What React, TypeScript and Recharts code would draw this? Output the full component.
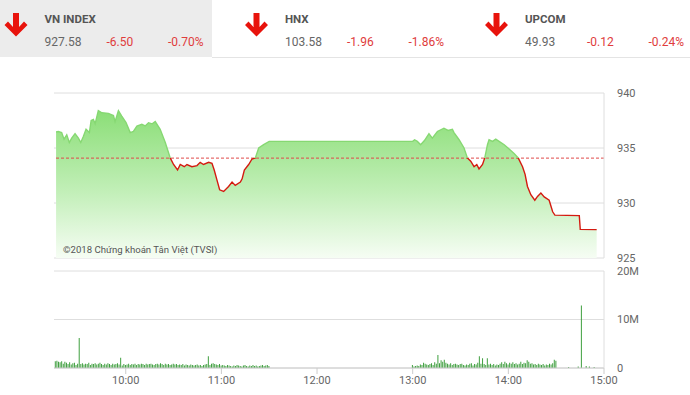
import React from "react";
import {
  ComposedChart,
  Area,
  Line,
  Bar,
  XAxis,
  YAxis,
  CartesianGrid,
  ReferenceLine,
} from "recharts";

// ---- time axis (minutes after 09:00) ----
const timeTicks = [60, 120, 180, 240, 300, 360];
const timeLabels = ["10:00", "11:00", "12:00", "13:00", "14:00", "15:00"];

// ---- header indices ----
const indexNames = ["VN INDEX", "HNX", "UPCOM"];
const indexValues = ["927.58", "103.58", "49.93"];
const indexChanges = ["-6.50", "-1.96", "-0.12"];
const indexPercents = ["-0.70%", "-1.86%", "-0.24%"];

// ---- VN-Index intraday ----
const REFERENCE = 934.08;
const priceTimes = [
  16.3, 17.7, 19.8, 21.3, 23, 24.6, 26.1, 28.2, 30.3, 31.8, 33.4, 35.1, 37.2, 38.3, 39.7, 40.8,
  42.8, 45, 49.1, 52.3, 53.3, 55.4, 57.5, 60.2, 62.8, 64.8, 67, 70.1, 72.2, 74.3, 76.6, 78.5,
  81.6, 84.8, 87.9, 90, 92.5, 94.2, 96.7, 98.4, 101.5, 104.7, 106.7, 108.8, 112, 114.1, 115.5,
  117.2, 118.9, 121.4, 124.5, 126.7, 128.7, 131.9, 133, 134.4, 137.1, 139.2, 141.3, 143.4,
  146.5, 150,
  240, 241.2, 242.9, 245, 247.5, 250.2, 252.3, 255.5, 259.6, 262.2, 264.9, 265.9, 269.1, 272.2,
  274.3, 276.4, 278.5, 280.2, 281.6, 283.8, 285.2, 286.9, 287.9, 290.1, 292.1, 294.2, 297.4,
  300.5, 303.6, 306.2, 308.9, 310.5, 312, 314.1, 316.6, 318.3, 320.4, 322.5, 325.6, 327.8,
  329.2, 344.5, 345.1, 355.4,
];
const priceValues = [
  936.45, 936.5, 936.4, 935.8, 936.2, 935.5, 935.9, 936.3, 935.9, 935.5, 936.05, 936.7, 936.4,
  937.5, 937.6, 937.2, 938.4, 938.2, 938.15, 937.95, 937.4, 938.4, 937.9, 937.3, 936.4, 936.5,
  937.0, 937.15, 937.0, 937.3, 937.2, 937.4, 936.7, 935.5, 934.1, 933.5, 933.0, 933.5, 933.3,
  933.5, 933.3, 933.4, 933.7, 933.5, 933.7, 933.6, 933.0, 932.1, 931.2, 931.05, 931.5, 931.9,
  931.6, 931.9, 932.2, 933.0, 933.5, 934.0, 934.1, 935.0, 935.3, 935.6,
  935.6, 935.75, 935.6, 935.3, 935.7, 936.3, 935.9, 936.5, 936.8, 936.6, 936.7, 936.4, 935.75,
  935.0, 934.1, 933.8, 933.3, 933.5, 933.1, 933.5, 934.1, 935.3, 935.75, 935.6, 935.8, 935.6,
  935.3, 934.9, 934.5, 934.1, 933.3, 932.6, 931.5, 930.75, 930.25, 930.6, 930.9, 930.55,
  930.25, 929.2, 928.9, 928.85, 927.6, 927.58,
];

// ---- volume (millions), one bar per minute ----
const morningStart = 16;
const morningVolumes = [
  1.4, 1.5, 1.3, 1.2, 1.4, 0.9, 1.3, 1.1, 0.8, 1.2,
  0.7, 1.0, 1.1, 0.6, 0.9,
  6.2,
  0.8, 1.0, 0.7, 0.9, 0.8, 1.1, 0.6, 0.9, 0.8,
  1.0, 0.7, 0.9, 1.1, 0.8, 0.6, 0.9, 0.7, 1.0, 0.8,
  0.6, 0.9, 0.7, 0.8, 1.0, 0.7, 2.1,
  0.5, 0.8, 0.6, 0.7, 0.9, 0.6, 0.8, 0.7, 0.9, 0.6, 0.8, 0.7, 0.9,
  0.8, 0.6, 0.9, 0.7, 0.8, 0.9, 0.7, 0.6, 0.8, 0.9, 0.7, 1.0, 0.8, 0.6, 0.9, 0.7, 0.8, 0.6, 0.7, 0.9,
  0.7, 0.8, 0.6, 0.7, 0.6, 0.8, 0.5, 0.7, 0.6, 0.5, 0.7, 0.6, 0.5, 0.6, 0.7, 0.5, 0.6, 0.4, 0.6, 0.7, 0.8,
  2.4,
  0.6, 0.9, 1.0, 0.8, 0.7, 0.6, 0.8, 0.5,
  0.6, 0.5, 0.4, 0.6, 0.5, 0.4, 0.3, 0.5, 0.4, 0.6, 0.5, 0.4, 0.3, 0.5, 0.6, 0.4, 0.3, 0.5, 0.4, 0.6,
  0.4, 0.5, 0.3, 0.4, 0.5, 0.6, 0.4, 0.5, 0.6, 0.4,
];
const afternoonStart = 240;
const afternoonVolumes = [
  0.6, 0.3, 0.4, 0.5, 0.4, 0.7, 0.6, 1.1, 0.9, 0.7,
  0.6, 0.8, 1.0, 0.6, 1.2, 0.9, 2.7, 1.0, 1.6, 1.3,
  1.7, 1.1, 0.9, 0.7, 1.0, 0.6, 0.8, 0.9, 0.7, 0.6,
  0.8, 0.9, 0.6, 0.5, 0.7, 0.6, 0.9, 1.0, 0.5, 0.8,
  0.7, 1.1, 2.4, 0.9, 2.0, 0.8, 0.6, 2.0, 0.7, 0.9,
  0.6, 0.8, 0.5, 0.7, 0.6, 0.9, 1.2, 0.8, 1.3, 1.0,
  0.7, 1.1, 0.9, 1.2, 0.8, 1.0, 0.7, 0.9, 1.3, 0.8,
  1.1, 1.0, 1.6, 1.3, 0.9, 1.0, 0.7, 0.8, 0.6, 0.9,
  0.7, 0.6, 0.8, 0.5, 0.7, 0.6, 0.9, 0.7, 1.0, 1.7, 1.5,
];
const closingTimes = [338, 344, 346, 349, 351, 354];
const closingVolumes = [0.2, 0.3, 12.9, 0.4, 0.3, 0.2];

const volTicks = [0, 10, 20];

// ---- built tables ----
const priceData = priceTimes.map((t, i) => ({ t, price: priceValues[i] }));
const volumeData = [
  ...morningVolumes.map((v, i) => ({ t: morningStart + i, vol: v })),
  ...afternoonVolumes.map((v, i) => ({ t: afternoonStart + i, vol: v })),
  ...closingTimes.map((t, i) => ({ t, vol: closingVolumes[i] })),
];
const pMax = Math.max(...priceValues);
const pMin = Math.min(...priceValues);
const splitOffset = (pMax - REFERENCE) / (pMax - pMin);

const timeFmt = (v: number) => {
  const i = timeTicks.indexOf(v);
  return i >= 0 ? timeLabels[i] : "";
};

const FONT = "Roboto, 'Noto Sans', sans-serif";
const arrowCenters = [16, 256.5, 496.5];
const textStarts = [44.5, 285, 525];

function Arrow({ cx }: { cx: number }) {
  const d = `M ${cx - 3} 13 H ${cx + 3} V 27 L ${cx + 8} 21.5 L ${cx + 11.5} 25 L ${cx} 36.5 L ${cx - 11.5} 25 L ${cx - 8} 21.5 L ${cx - 3} 27 Z`;
  return <path d={d} fill="#e8130c" />;
}

export default function App() {
  return (
    <div
      style={{
        position: "absolute",
        left: 0,
        top: 0,
        width: 690,
        height: 395,
        background: "#fff",
        fontFamily: FONT,
        overflow: "hidden",
      }}
    >
      <svg width={690} height={60} style={{ position: "absolute", left: 0, top: 0 }}>
        <rect x={0} y={0} width={212} height={57} fill="#ececec" />
        <line x1={212} x2={690} y1={57.5} y2={57.5} stroke="#e4e4e4" />
        {indexNames.map((name, i) => (
          <g key={name}>
            <Arrow cx={arrowCenters[i]} />
            <text x={textStarts[i]} y={22.5} fontSize={11.5} fontWeight={700} fill="#555" fontFamily={FONT}>
              {name}
            </text>
            <text x={textStarts[i]} y={46} fontSize={12} fill="#666" fontFamily={FONT}>
              {indexValues[i]}
            </text>
            <text x={textStarts[i] + 62} y={46} fontSize={12} fill="#e03c3c" fontFamily={FONT}>
              {indexChanges[i]}
            </text>
            <text x={textStarts[i] + 123.5} y={46} fontSize={12} fill="#e03c3c" fontFamily={FONT}>
              {indexPercents[i]}
            </text>
          </g>
        ))}
      </svg>

      <div style={{ position: "absolute", left: 0, top: 80 }}>
        <ComposedChart
          width={690}
          height={190}
          data={priceData}
          margin={{ top: 13, right: 0, bottom: 12, left: 54 }}
        >
          <defs>
            <linearGradient id="areaFill" x1="0" y1="0" x2="0" y2="1">
              <stop offset="0" stopColor="#8bde77" />
              <stop offset="0.55" stopColor="#c2efb8" />
              <stop offset="1" stopColor="#f6fdf4" />
            </linearGradient>
            <linearGradient id="lineSplit" x1="0" y1="0" x2="0" y2="1">
              <stop offset={splitOffset} stopColor="#86d872" />
              <stop offset={splitOffset} stopColor="#d41a10" />
            </linearGradient>
          </defs>
          <CartesianGrid horizontal vertical={false} stroke="#dedede" />
          <XAxis dataKey="t" type="number" domain={[15, 360]} hide />
          <YAxis
            orientation="right"
            width={86}
            domain={[925, 940]}
            ticks={[925, 930, 935, 940]}
            axisLine={{ stroke: "#dedede" }}
            tickLine={false}
            tickSize={0}
            tickMargin={13}
            tick={{ fontSize: 11, fill: "#666", fontFamily: FONT }}
          />
          <Area
            type="linear"
            dataKey="price"
            stroke="none"
            fill="url(#areaFill)"
            fillOpacity={1}
            isAnimationActive={false}
          />
          <ReferenceLine y={REFERENCE} stroke="#e04a4a" strokeDasharray="3 2" />
          <Line
            type="linear"
            dataKey="price"
            stroke="url(#lineSplit)"
            strokeWidth={1.4}
            dot={false}
            isAnimationActive={false}
          />
        </ComposedChart>
      </div>

      <div
        style={{
          position: "absolute",
          left: 63,
          top: 244,
          fontSize: 9.6,
          lineHeight: "12px",
          color: "#555",
          fontFamily: FONT,
          whiteSpace: "nowrap",
        }}
      >
        ©2018 Chứng khoán Tân Việt (TVSI)
      </div>

      <div style={{ position: "absolute", left: 0, top: 260 }}>
        <ComposedChart
          width={690}
          height={135}
          data={volumeData}
          margin={{ top: 11, right: 0, bottom: 0, left: 54 }}
        >
          <CartesianGrid horizontal vertical={false} stroke="#dedede" />
          <XAxis
            dataKey="t"
            type="number"
            domain={[15, 360]}
            ticks={timeTicks}
            tickFormatter={timeFmt}
            height={27}
            axisLine={{ stroke: "#cccccc" }}
            tickLine={{ stroke: "#cccccc" }}
            tickSize={6}
            tick={{ fontSize: 11, fill: "#666", fontFamily: FONT }}
          />
          <YAxis
            orientation="right"
            width={86}
            domain={[0, 20]}
            ticks={volTicks}
            tickFormatter={(v: number) => (v === 0 ? "0" : `${v}M`)}
            axisLine={{ stroke: "#dedede" }}
            tickLine={false}
            tickSize={0}
            tickMargin={13}
            tick={{ fontSize: 11, fill: "#666", fontFamily: FONT }}
          />
          <Bar dataKey="vol" fill="#3f9f3f" barSize={1} isAnimationActive={false} />
        </ComposedChart>
      </div>
    </div>
  );
}
